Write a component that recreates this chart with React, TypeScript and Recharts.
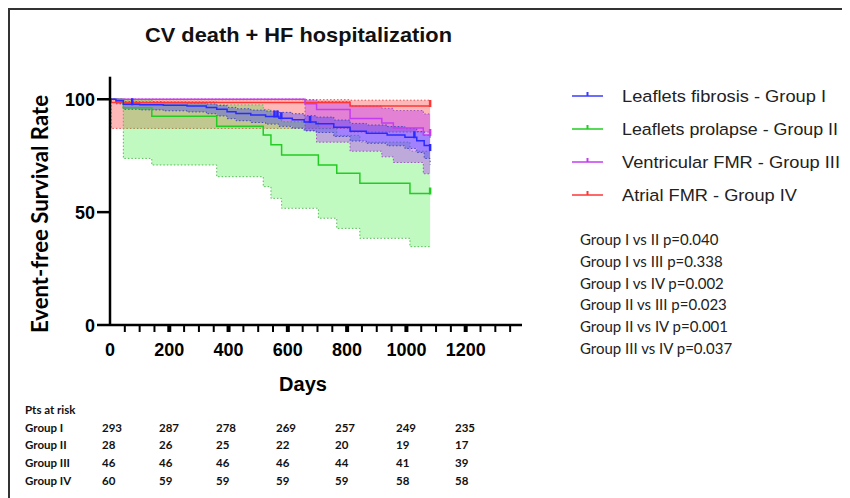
import React from 'react';
import { ComposedChart, Area, Line, Scatter, XAxis, YAxis } from 'recharts';

// ---------- data ----------
const groupNames = [
  'Leaflets fibrosis - Group I',
  'Leaflets prolapse - Group II',
  'Ventricular FMR - Group III',
  'Atrial FMR - Group IV',
];

// Group I (Leaflets fibrosis)
const g1Days = [0, 20, 45, 100, 180, 260, 325, 360, 395, 425, 475, 525, 570, 615, 655, 695, 755, 810, 865, 935, 995, 1035, 1060, 1080];
const g1Surv = [100, 99.3, 97.8, 97.6, 97.3, 97.0, 96.4, 95.6, 94.5, 93.7, 93.0, 92.4, 91.6, 90.9, 89.9, 89.2, 87.6, 85.8, 85.0, 84.2, 83.2, 81.6, 79.5, 77.5];
const g1Lo = [100, 98.0, 95.6, 95.3, 94.9, 94.4, 93.6, 92.6, 91.4, 90.5, 89.7, 89.0, 88.0, 87.2, 86.1, 85.3, 83.5, 81.5, 80.5, 79.4, 78.2, 76.4, 73.8, 71.0];
const g1Hi = [100, 99.9, 98.9, 98.8, 98.6, 98.4, 97.9, 97.3, 96.4, 95.8, 95.2, 94.8, 94.2, 93.6, 92.7, 92.1, 90.8, 89.3, 88.6, 87.9, 87.0, 85.7, 84.0, 82.5];
const g1Censor = [75, 555, 565, 578, 675, 1027, 1080];

// Group II (Leaflets prolapse)
const g2Days = [0, 45, 141, 360, 517, 543, 579, 703, 765, 843, 1012, 1080];
const g2Surv = [100, 96.3, 92.5, 88.0, 84.2, 79.8, 75.3, 70.9, 67.2, 62.8, 58.3, 58.3];
const g2Lo = [100, 73.8, 70.9, 65.7, 61.3, 56.1, 51.7, 47.3, 42.8, 38.4, 34.7, 34.7];
const g2Hi = [100, 99.8, 99.0, 97.5, 95.5, 93.0, 90.0, 87.0, 84.0, 81.0, 77.0, 77.0];
const g2Censor = [1080];

// Group III (Ventricular FMR)
const g3Days = [0, 658, 697, 810, 917, 956, 1057, 1080];
const g3Surv = [100, 98.0, 95.5, 91.5, 89.5, 87.3, 84.2, 84.2];
const g3Lo = [100, 86.0, 81.0, 77.0, 74.5, 72.0, 67.0, 67.0];
const g3Hi = [100, 99.8, 99.0, 97.0, 96.0, 95.0, 93.5, 93.5];
const g3Censor = [1080];

// Group IV (Atrial FMR)
const g4Days = [0, 4, 810, 1080];
const g4Surv = [100, 98.6, 97.0, 97.0];
const g4Lo = [100, 87.1, 85.5, 85.5];
const g4Hi = [100, 99.8, 99.6, 99.6];
const g4Censor = [1080];

const xTicks = [0, 50, 100, 150, 200, 250, 300, 350, 400, 450, 500, 550, 600, 650, 700, 750, 800, 850, 900, 950, 1000, 1050, 1100, 1150, 1200, 1250, 1300, 1350];
const xLabels = [0, 200, 400, 600, 800, 1000, 1200];
const yTicks = [0, 50, 100];

const pValues = [
  'Group I vs II p=0.040',
  'Group I vs III p=0.338',
  'Group I vs IV p=0.002',
  'Group II vs III p=0.023',
  'Group II vs IV p=0.001',
  'Group III vs IV p=0.037',
];

const riskRows = ['Group I', 'Group II', 'Group III', 'Group IV'];
const riskI = [293, 287, 278, 269, 257, 249, 235];
const riskII = [28, 26, 25, 22, 20, 19, 17];
const riskIII = [46, 46, 46, 46, 44, 41, 39];
const riskIV = [60, 59, 59, 59, 59, 58, 58];

// ---------- styling ----------
const series = [
  { key: 'g4', days: g4Days, surv: g4Surv, lo: g4Lo, hi: g4Hi, censor: g4Censor, line: '#ff3636', fill: '#ff3a3a', fillOp: 0.36, dot: '#e05050' },
  { key: 'g2', days: g2Days, surv: g2Surv, lo: g2Lo, hi: g2Hi, censor: g2Censor, line: '#22cc22', fill: '#33ee33', fillOp: 0.3, dot: '#55bb55' },
  { key: 'g3', days: g3Days, surv: g3Surv, lo: g3Lo, hi: g3Hi, censor: g3Censor, line: '#c43cf0', fill: '#b833ff', fillOp: 0.4, dot: '#a050c0' },
  { key: 'g1', days: g1Days, surv: g1Surv, lo: g1Lo, hi: g1Hi, censor: g1Censor, line: '#2b2bff', fill: '#3a3aff', fillOp: 0.38, dot: '#4848b8' },
];
const legendColors = ['#3b3bff', '#22cc22', '#c43cf0', '#ff3636'];

function stepAt(days: number[], vals: number[], d: number) {
  let idx = 0;
  for (let i = 0; i < days.length; i++) if (days[i] <= d) idx = i;
  return vals[idx];
}

const allDays = Array.from(new Set(series.flatMap((s) => s.days))).sort((a, b) => a - b);
const table = allDays.map((d) => {
  const row: any = { day: d };
  series.forEach((s) => {
    row[s.key] = stepAt(s.days, s.surv, d);
    row[s.key + 'ci'] = [stepAt(s.days, s.lo, d), stepAt(s.days, s.hi, d)];
  });
  return row;
});

const sans = '"Liberation Sans", Arial, sans-serif';
const cal = 'Lato, "Open Sans", sans-serif';

const XTick = (props: any) => {
  const { x, y, payload } = props;
  const v = payload.value;
  const major = v % 200 === 0;
  return (
    <g>
      {v !== 0 && (
        <line x1={x} x2={x} y1={y} y2={y + 7} stroke="#000" strokeWidth={major ? 4 : 2} />
      )}
      {xLabels.includes(v) && (
        <text x={x} y={y + 31} textAnchor="middle" fontFamily={sans} fontWeight="bold" fontSize={18} fill="#000">
          {v}
        </text>
      )}
    </g>
  );
};

const YTick = (props: any) => {
  const { x, y, payload } = props;
  return (
    <g>
      <line x1={x - 13} x2={x} y1={y} y2={y} stroke="#000" strokeWidth={2.5} />
      <text x={x - 15} y={y + 6.5} textAnchor="end" fontFamily={sans} fontWeight="bold" fontSize={18} fill="#000">
        {payload.value}
      </text>
    </g>
  );
};

const makeCensorShape = (color: string) => (p: any) => (
  <line x1={p.cx} x2={p.cx} y1={p.cy + 1} y2={p.cy - 6} stroke={color} strokeWidth={2.5} />
);

const legendY = [96, 129, 162, 195];
const legendLen = [204, 216, 218, 175];
const pY = [244.5, 266.5, 288.5, 310, 332, 354];
const riskColX = [102, 159, 216, 276, 335, 396, 455];
const riskRowY = [431.5, 449, 466.5, 484.5];
const riskData = [riskI, riskII, riskIII, riskIV];

export default function App() {
  return (
    <div
      style={{
        position: 'relative',
        width: 842,
        height: 490,
        boxSizing: 'border-box',
        borderTop: '2px solid #333',
        borderLeft: '2px solid #333',
        background: '#fff',
      }}
    >
      <style>{'html,body{overflow:hidden;background:#fff}'}</style>
      <div style={{ position: 'absolute', left: -10, top: -10 }}>
        <ComposedChart
          width={850}
          height={498}
          data={table}
          margin={{ top: 76.7, right: 328, bottom: 133, left: 0 }}
        >
          <XAxis
            dataKey="day"
            type="number"
            domain={[0, 1390]}
            ticks={xTicks}
            interval={0}
            tickSize={0}
            tickMargin={0}
            tickLine={false}
            axisLine={{ stroke: '#000', strokeWidth: 2.5 }}
            tick={<XTick />}
            height={40}
            allowDataOverflow
          />
          <YAxis
            type="number"
            domain={[0, 110]}
            ticks={yTicks}
            interval={0}
            tickSize={0}
            tickMargin={0}
            tickLine={false}
            axisLine={{ stroke: '#000', strokeWidth: 2.5 }}
            tick={<YTick />}
            width={110}
            allowDataOverflow
          />
          {series.map((s) => (
            <Area
              key={s.key + 'ci'}
              dataKey={s.key + 'ci'}
              type="stepAfter"
              fill={s.fill}
              fillOpacity={s.fillOp}
              stroke={s.dot}
              strokeWidth={1}
              strokeDasharray="1.5 2"
              dot={false}
              activeDot={false}
              isAnimationActive={false}
            />
          ))}
          {series.map((s) => (
            <Line
              key={s.key}
              dataKey={s.key}
              type="stepAfter"
              stroke={s.line}
              strokeWidth={1.5}
              dot={false}
              activeDot={false}
              isAnimationActive={false}
            />
          ))}
          {series.map((s) => (
            <Scatter
              key={s.key + 'c'}
              data={s.censor.map((d) => ({ day: d, v: stepAt(s.days, s.surv, d) }))}
              dataKey="v"
              shape={makeCensorShape(s.line)}
              isAnimationActive={false}
            />
          ))}
        </ComposedChart>
      </div>
      <svg
        width={850}
        height={498}
        style={{ position: 'absolute', left: -10, top: -10, pointerEvents: 'none' }}
      >
        <text x={145} y={42} fontFamily={sans} fontWeight="bold" fontSize={20.5} fill="#111" textLength={307} lengthAdjust="spacingAndGlyphs">
          CV death + HF hospitalization
        </text>
        <text
          transform="translate(48,214) rotate(-90)"
          textAnchor="middle"
          fontFamily={cal}
          fontWeight="bold"
          fontSize={22}
          fill="#000"
          textLength={238}
          lengthAdjust="spacingAndGlyphs"
        >
          Event-free Survival Rate
        </text>
        <text x={303} y={391} textAnchor="middle" fontFamily={sans} fontWeight="bold" fontSize={20} fill="#000">
          Days
        </text>
        {groupNames.map((n, i) => (
          <g key={n}>
            <line x1={572} x2={603} y1={legendY[i]} y2={legendY[i]} stroke={legendColors[i]} strokeWidth={1.5} />
            <line x1={587.5} x2={587.5} y1={legendY[i]} y2={legendY[i] - 4} stroke={legendColors[i]} strokeWidth={2} />
            <text x={622} y={legendY[i] + 6} fontFamily={sans} fontSize={16.3} fill="#222" textLength={legendLen[i]} lengthAdjust="spacingAndGlyphs">
              {n}
            </text>
          </g>
        ))}
        {pValues.map((p, i) => (
          <text key={p} x={580} y={pY[i]} fontFamily={cal} fontSize={15} fill="#222">
            {p}
          </text>
        ))}
        <text x={25} y={414} fontFamily={cal} fontWeight="bold" fontSize={11.5} fill="#111">
          Pts at risk
        </text>
        {riskRows.map((r, i) => (
          <g key={r}>
            <text x={25} y={riskRowY[i]} fontFamily={cal} fontWeight="bold" fontSize={11.5} fill="#111">
              {r}
            </text>
            {riskData[i].map((v, j) => (
              <text key={j} x={riskColX[j]} y={riskRowY[i]} fontFamily={cal} fontWeight="bold" fontSize={11.5} fill="#111">
                {v}
              </text>
            ))}
          </g>
        ))}
      </svg>
    </div>
  );
}
